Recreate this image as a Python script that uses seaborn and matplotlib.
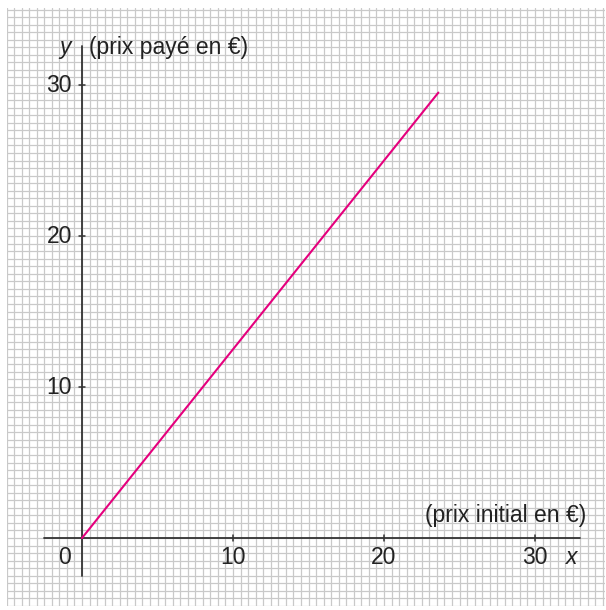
import numpy as np
import matplotlib
matplotlib.use("Agg")
import matplotlib.pyplot as plt
import seaborn as sns

# prix initial -> prix payé (droite de proportionnalité)
prix_initial = [0, 23.6]
prix_paye = [0, 29.5]
x_ticks = [10, 20, 30]
y_ticks = [10, 20, 30]
x_titre = "(prix initial en €)"
y_titre = "(prix payé en €)"

sns.set_style("white")
plt.rcParams['font.family'] = ['Liberation Sans', 'DejaVu Sans']

fig = plt.figure(figsize=(6.06, 6.10), dpi=100)
# 15.1 px par unité, x de -5 à 34.6, y de -4.5 à 35.1
ax = fig.add_axes([6.5 / 606, 4 / 610, 598 / 606, 598 / 610])

sns.lineplot(x=prix_initial, y=prix_paye, ax=ax, color="#e5007d", lw=1.5, zorder=4)

# papier millimétré
grid = np.arange(-5, 35.01, 0.5)
ax.set_xticks(grid)
ax.set_yticks(grid)
ax.set_xticklabels([])
ax.set_yticklabels([])
ax.set_xlabel("")
ax.set_ylabel("")
ax.tick_params(length=0)
ax.grid(True, color="#c9c9c9", lw=0.9)
for s in ax.spines.values():
    s.set_visible(False)

# axes
fs = 16.5
tc = "#222222"
axc = "#333333"
ax.plot([-2.5, 33], [0, 0], color=axc, lw=1.3, zorder=3)
ax.plot([0, 0], [-2.5, 32.6], color=axc, lw=1.3, zorder=3)
for t in x_ticks:
    ax.plot([t, t], [-0.22, 0.22], color=axc, lw=1.1, zorder=3)
    ax.text(t, -1.26, str(t), ha="center", va="center", fontsize=fs, color=tc)
for t in y_ticks:
    ax.plot([-0.22, 0.22], [t, t], color=axc, lw=1.1, zorder=3)
    ax.text(-0.66, t, str(t), ha="right", va="center", fontsize=fs, color=tc)
ax.text(-1.19, -1.26, "0", ha="center", va="center", fontsize=fs, color=tc)
ax.text(32.45, -1.26, "x", ha="center", va="center", fontsize=fs, style="italic", color=tc)
ax.text(-1.13, 32.5, "y", ha="center", va="center", fontsize=fs, style="italic", color=tc)
ax.text(0.46, 32.5, y_titre, ha="left", va="center", fontsize=fs, color=tc)
ax.text(33.4, 1.46, x_titre, ha="right", va="center", fontsize=fs, color=tc)

ax.set_xlim(-5, 34.6)
ax.set_ylim(-4.5, 35.1)

fig.savefig("out.png", dpi=100)
